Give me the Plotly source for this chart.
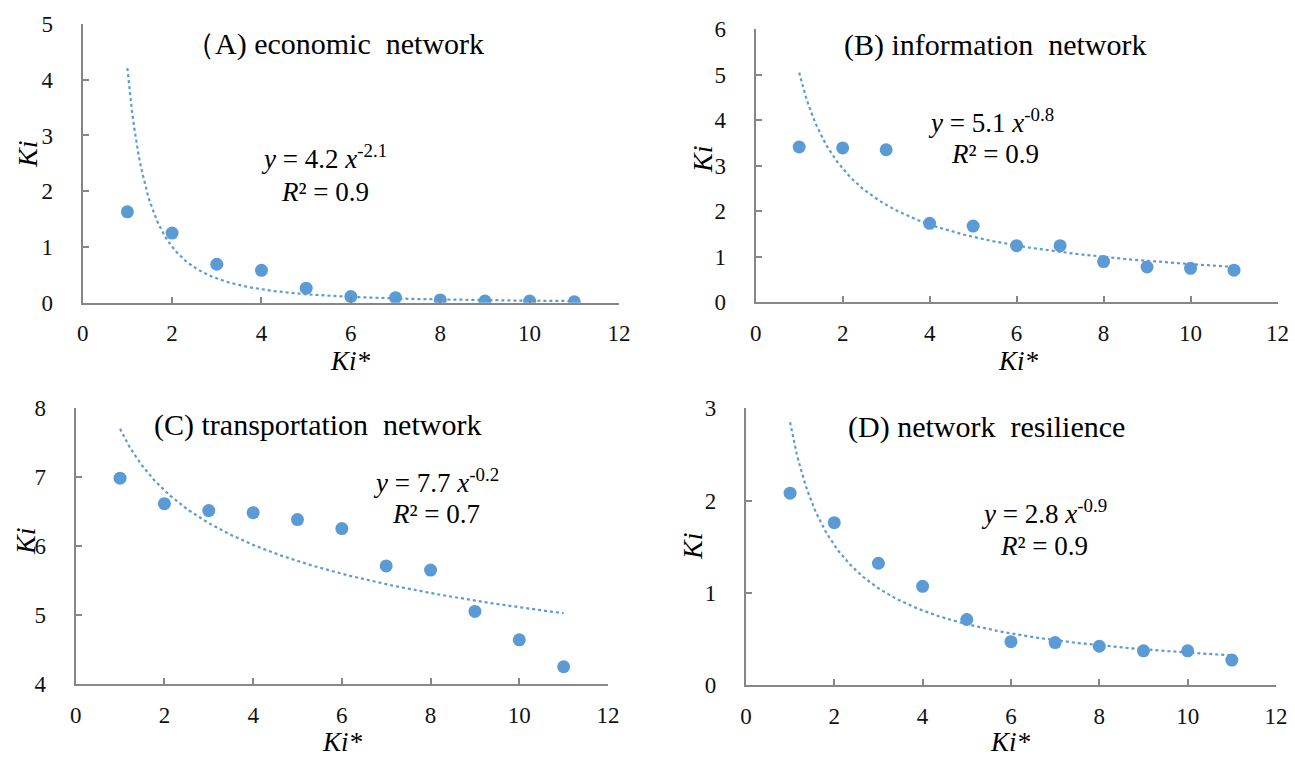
import numpy as np
import plotly.graph_objects as go

# ---- data ----
ki_star = [1, 2, 3, 4, 5, 6, 7, 8, 9, 10, 11]
economic = [1.63, 1.25, 0.69, 0.58, 0.26, 0.11, 0.09, 0.05, 0.03, 0.03, 0.015]
information = [3.41, 3.39, 3.35, 1.73, 1.67, 1.24, 1.24, 0.89, 0.77, 0.74, 0.70]
transportation = [6.98, 6.61, 6.51, 6.48, 6.38, 6.25, 5.71, 5.65, 5.05, 4.64, 4.25]
resilience = [2.08, 1.76, 1.32, 1.07, 0.71, 0.47, 0.46, 0.42, 0.37, 0.37, 0.27]

titles = ["（A) economic  network", "(B) information  network",
          "(C) transportation  network", "(D) network  resilience"]
equations = ["<i>y</i> = 4.2 <i>x</i><sup>-2.1</sup>", "<i>y</i> = 5.1 <i>x</i><sup>-0.8</sup>",
             "<i>y</i> = 7.7 <i>x</i><sup>-0.2</sup>", "<i>y</i> = 2.8 <i>x</i><sup>-0.9</sup>"]
r2_labels = ["<i>R</i>² = 0.9", "<i>R</i>² = 0.9", "<i>R</i>² = 0.7", "<i>R</i>² = 0.9"]
y_ranges = [[0, 5], [0, 6], [4, 8], [0, 3]]
x_tick_vals = [0, 2, 4, 6, 8, 10, 12]

series = [economic, information, transportation, resilience]

W, H = 1295, 758
BLUE = "#5B9BD5"
AXIS = "#878787"
FONT = "'Liberation Serif', 'Times New Roman', serif"

# panel geometry in pixels: (x0, x1, ytop, ybottom)
panels = [(82.7, 619, 24, 302.7), (755.7, 1277.5, 29.3, 302),
          (75.7, 608, 407.7, 684), (745.9, 1276, 408.3, 685)]
# text positions in pixels
title_pos = [(334, 44), (995, 45), (317, 425), (986, 427)]
eq_pos = [(324, 157), (991, 121), (436, 481), (1044, 512)]
r2_pos = [(325, 192), (995, 154), (436, 514), (1044, 546)]
ytitle_pos = [(27, 155), (703, 160), (25, 542), (692, 547)]
xtitle_pos = [(350, 361), (1018, 361), (342, 742), (1010, 742)]


def px(x):
    return x / W


def py(y):
    return 1 - y / H


fig = go.Figure()
annotations = []
layout_axes = {}

xs_fit = np.linspace(1, 11, 200)
for i, ys in enumerate(series):
    n = "" if i == 0 else str(i + 1)
    xa, ya = "x" + n, "y" + n
    # power trendline (least squares in log-log space, as Excel does)
    b, ln_a = np.polyfit(np.log(ki_star), np.log(ys), 1)
    fit = np.exp(ln_a) * xs_fit ** b
    fig.add_trace(go.Scatter(x=xs_fit, y=fit, mode="lines", xaxis=xa, yaxis=ya,
                             line=dict(color=BLUE, width=2.2, dash="dot"),
                             showlegend=False, hoverinfo="skip"))
    fig.add_trace(go.Scatter(x=ki_star, y=ys, mode="markers", xaxis=xa, yaxis=ya,
                             marker=dict(color=BLUE, size=13, line=dict(width=0)),
                             showlegend=False))
    x0, x1, yt, yb = panels[i]
    common = dict(showline=True, linecolor=AXIS, linewidth=2, ticks="inside",
                  ticklen=6, tickwidth=2, tickcolor=AXIS, showgrid=False,
                  zeroline=False, automargin=False,
                  tickfont=dict(family=FONT, size=23, color="#111"))
    layout_axes["xaxis" + n] = dict(domain=[px(x0), px(x1)], anchor=ya, range=[0, 12],
                                    tickvals=x_tick_vals, ticklabelstandoff=9, **common)
    layout_axes["yaxis" + n] = dict(domain=[py(yb), py(yt)], anchor=xa, range=y_ranges[i],
                                    dtick=1, ticklabelstandoff=23, **common)

    annotations.append(dict(x=px(title_pos[i][0]), y=py(title_pos[i][1]), xref="paper", yref="paper",
                            text=titles[i], showarrow=False, xanchor="center", yanchor="middle",
                            font=dict(family=FONT, size=30, color="#000")))
    annotations.append(dict(x=px(eq_pos[i][0]), y=py(eq_pos[i][1]), xref="paper", yref="paper",
                            text=equations[i], showarrow=False, xanchor="center", yanchor="middle",
                            font=dict(family=FONT, size=27, color="#000")))
    annotations.append(dict(x=px(r2_pos[i][0]), y=py(r2_pos[i][1]), xref="paper", yref="paper",
                            text=r2_labels[i], showarrow=False, xanchor="center", yanchor="middle",
                            font=dict(family=FONT, size=27, color="#000")))
    annotations.append(dict(x=px(ytitle_pos[i][0]), y=py(ytitle_pos[i][1]), xref="paper", yref="paper",
                            text="<i>Ki</i>", showarrow=False, xanchor="center", yanchor="middle",
                            textangle=-90, font=dict(family=FONT, size=28, color="#000")))
    annotations.append(dict(x=px(xtitle_pos[i][0]), y=py(xtitle_pos[i][1]), xref="paper", yref="paper",
                            text="<i>Ki*</i>", showarrow=False, xanchor="center", yanchor="middle",
                            font=dict(family=FONT, size=27, color="#000")))

fig.update_layout(width=W, height=H, margin=dict(l=0, r=0, t=0, b=0, pad=0, autoexpand=False),
                  paper_bgcolor="white", plot_bgcolor="white",
                  annotations=annotations, **layout_axes)

fig.write_html("out.html", config={"displayModeBar": False},
               post_script="document.body.style.margin='0';")
